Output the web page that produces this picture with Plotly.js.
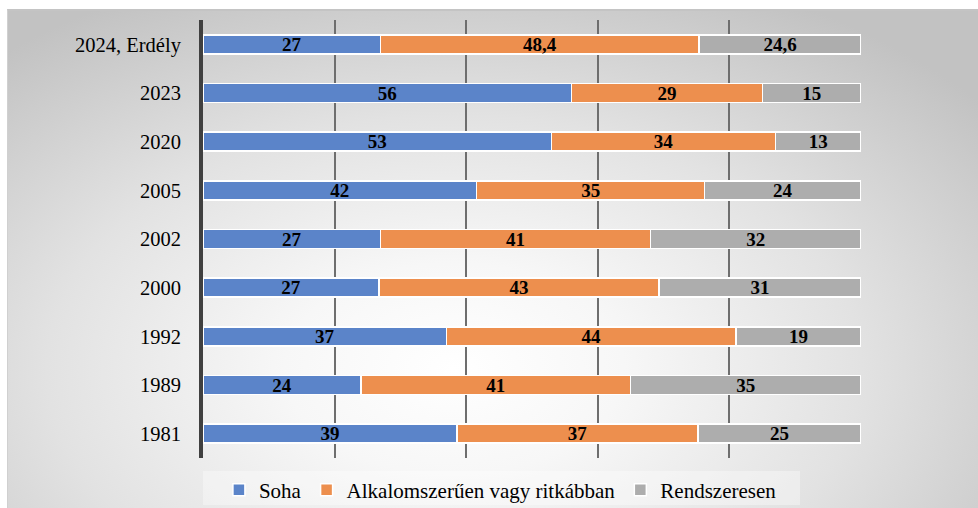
<!DOCTYPE html>
<html>
<head>
<meta charset="utf-8">
<script src="https://cdn.plot.ly/plotly-3.0.1.min.js"></script>
<style>
  html, body { margin: 0; padding: 0; background: #ffffff; }
  #bg { position: absolute; left: 7px; top: 9px; width: 971px; height: 499px;
        border-top: 2px solid #c4c4c4; border-left: 1px solid #d0d0d0; box-sizing: border-box;
        background: radial-gradient(ellipse 70% 85% at 46% 72%, #ffffff 0%, #f7f7f7 25%, #e2e2e2 60%, #c2c2c2 100%); }
  #legbg { position: absolute; left: 203px; top: 471px; width: 597px; height: 34px;
        background: rgba(255,255,255,0.35); }
  #chart { position: absolute; left: 0; top: 0; width: 978px; height: 508px; }
</style>
</head>
<body>
<div id="bg"></div>
<div id="legbg"></div>
<div id="chart"></div>
<script>
const categories = ["2024, Erdély", "2023", "2020", "2005", "2002", "2000", "1992", "1989", "1981"];
const seriesNames = ["Soha", "Alkalomszerűen vagy ritkábban", "Rendszeresen"];
const soha = [27, 56, 53, 42, 27, 27, 37, 24, 39];
const alkalom = [48.4, 29, 34, 35, 41, 43, 44, 41, 37];
const rendszeresen = [24.6, 15, 13, 24, 32, 31, 19, 35, 25];
const colors = ["#5b84c9", "#ed8f4e", "#adadad"];

const serif = '"Liberation Serif", "Times New Roman", serif';
const fmt = v => String(v).replace('.', ',');
const values = [soha, alkalom, rendszeresen];
const traces = values.map((vals, i) => ({
  type: 'bar',
  orientation: 'h',
  name: seriesNames[i],
  y: categories,
  x: vals,
  text: vals.map(fmt),
  texttemplate: '%{text}',
  textposition: 'inside',
  insidetextanchor: 'middle',
  textangle: 0,
  constraintext: 'none',
  textfont: { family: serif, size: 19, color: '#000000', weight: 'bold' },
  marker: { color: colors[i], line: { color: '#ffffff', width: 1.5 } },
  hoverinfo: 'skip'
}));

const layout = {
  width: 978, height: 508,
  margin: { l: 203, r: 117, t: 20, b: 50, pad: 0 },
  paper_bgcolor: 'rgba(0,0,0,0)',
  plot_bgcolor: 'rgba(0,0,0,0)',
  barmode: 'stack',
  barnorm: 'percent',
  bargap: 0.61,
  showlegend: true,
  legend: {
    orientation: 'h', x: 0.452, xanchor: 'center', yref: 'container', y: 0.035, yanchor: 'middle',
    font: { family: serif, size: 21, color: '#000000' },
    bgcolor: 'rgba(0,0,0,0)', traceorder: 'normal', itemwidth: 30
  },
  xaxis: {
    range: [0, 100], dtick: 20, showticklabels: false,
    showgrid: true, gridcolor: '#6e6e6e', gridwidth: 2,
    zeroline: false, showline: false, fixedrange: true
  },
  yaxis: {
    autorange: 'reversed', type: 'category',
    showline: true, linecolor: '#404040', linewidth: 4,
    showgrid: false, zeroline: false, ticks: '',
    ticklabelstandoff: 14,
    tickfont: { family: serif, size: 20.5, color: '#000000' }
  },
  font: { family: serif, color: '#000000' }
};

Plotly.newPlot('chart', traces, layout, { displayModeBar: false, staticPlot: true });
</script>
</body>
</html>
